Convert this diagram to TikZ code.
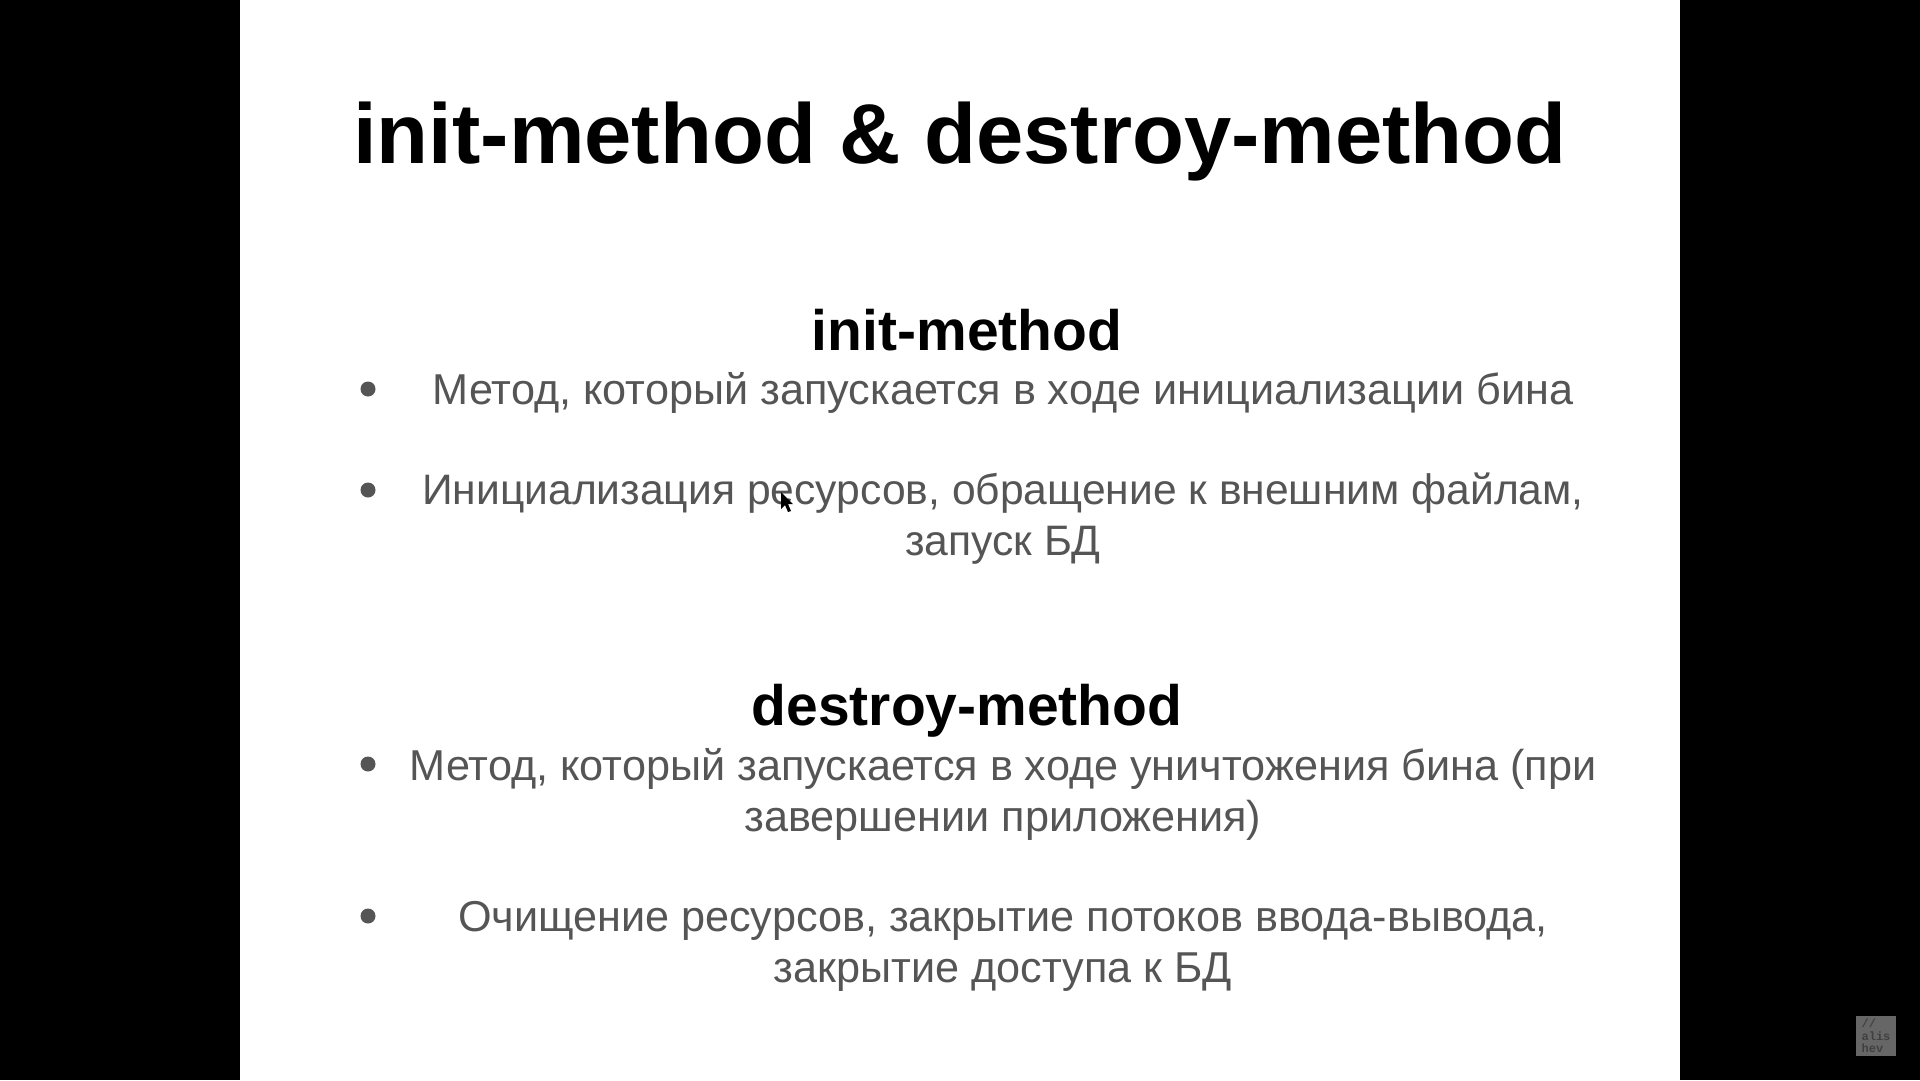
\documentclass[tikz,border=0pt]{standalone}
\usepackage{fontspec}
\setmainfont{Liberation Sans}
\setmonofont{Liberation Mono}
\definecolor{bodygray}{HTML}{555555}
\tikzset{
  heading/.style={anchor=base,inner sep=0pt,font=\bfseries\fontsize{85}{90}\selectfont},
  subheading/.style={anchor=base,inner sep=0pt,font=\bfseries\fontsize{57}{60}\selectfont},
  item/.style={anchor=center,inner sep=0pt,align=center,text=bodygray,font=\fontsize{43.2}{51}\selectfont},
  bullet/.style={circle,fill=bodygray,inner sep=0pt,minimum size=15pt}
}
\begin{document}
\begin{tikzpicture}[x=1pt,y=-1pt]
\fill[black] (0,0) rectangle (1920,1080);
\fill[white] (240,0) rectangle (1680,1080);
\path
(960,163) node[heading] (title) {init-method \& destroy-method}
(967,350) node[subheading] (init) {init-method}
(967,725) node[subheading] (destroy) {destroy-method}
(1003,393) node[item] (i1) {Метод, который запускается в ходе инициализации бина}
(1003,519) node[item,font=\fontsize{42.6}{51}\selectfont] (i2) {Инициализация ресурсов, обращение к внешним файлам,\\запуск БД}
(1003,794) node[item] (d1) {Метод, который запускается в ходе уничтожения бина (при\\завершении приложения)}
(1003,946) node[item] (d2) {Очищение ресурсов, закрытие потоков ввода-вывода,\\закрытие доступа к БД};
\path
(368,389) node[bullet] (b1) {}
(368,490) node[bullet] (b2) {}
(368,764) node[bullet] (b3) {}
(368,916) node[bullet] (b4) {};
% cursor
\fill[black] (781,492) -- (781,509) -- (785,505) -- (788,512) -- (791,511) -- (788,504) -- (793,504) -- cycle;
% logo
\node[fill=black!60!white,minimum width=40pt,minimum height=40pt,inner sep=0pt,align=left,text=black!75,font=\ttfamily\bfseries\fontsize{12}{12.5}\selectfont] (logo) at (1876,1036) {//\\alis\\hev};
\end{tikzpicture}
\end{document}
